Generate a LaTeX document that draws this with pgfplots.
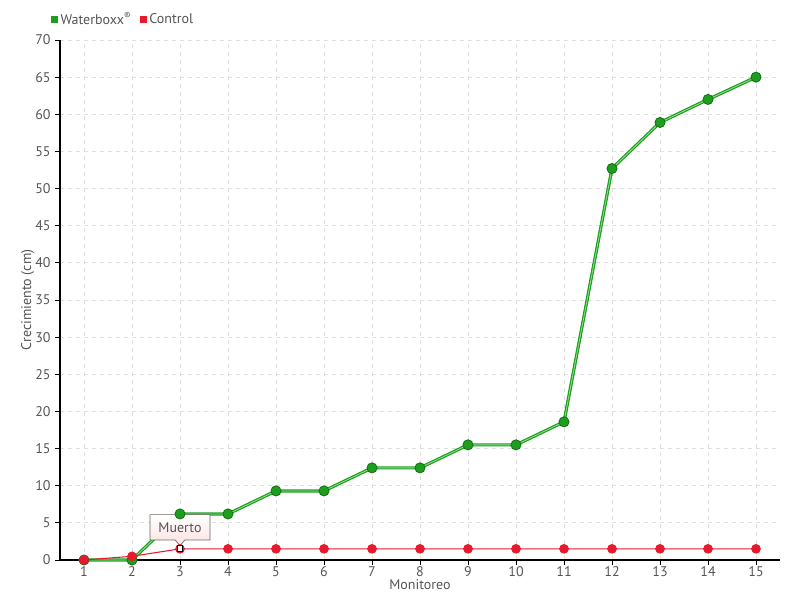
\documentclass[border=0pt]{standalone}
\usepackage{pgfplots}
\pgfplotsset{compat=1.18}
\usepackage{fontspec}
\setmainfont{PT Sans}
\usetikzlibrary{shapes.callouts}
\definecolor{wgreen}{HTML}{1E9E1E}
\definecolor{wdark}{HTML}{127012}
\definecolor{wlight}{HTML}{8FE08F}
\definecolor{cred}{HTML}{E8192C}
\definecolor{txt}{HTML}{555555}
\begin{document}
\begin{tikzpicture}
\useasboundingbox (-45pt,-30pt) rectangle (555pt,420pt);
\begin{axis}[
  at={(0,0)}, anchor=south west,
  scale only axis, width=540pt, height=390pt,
  xmin=0.5, xmax=15.5, ymin=0, ymax=70,
  xtick={1,...,15}, ytick={0,5,...,70},
  axis lines=left, axis line style={-, black, line width=0.8pt},
  tick style={black, line width=0.6pt},
  tick align=outside, major tick length=3.5pt,
  grid=major, grid style={dashed, gray!25, line width=0.6pt},
  ticklabel style={font=\fontsize{10.5}{12}\selectfont, text=txt},
  xticklabel style={yshift=2pt},
  /pgf/number format/assume math mode=true,
  xlabel={Monitoreo}, ylabel={Crecimiento (cm)},
  label style={font=\fontsize{10.5}{12}\selectfont, text=txt},
  xlabel style={yshift=5pt},
  ylabel style={yshift=-6pt},
  legend columns=2,
  legend style={at={(rel axis cs:-0.018,1.015)}, anchor=south west, draw=none, fill=none,
    font=\fontsize{10.5}{12}\selectfont, text=txt,
    /tikz/every even column/.append style={column sep=4pt}},
  clip=false,
]
% Waterboxx
\addplot[wgreen, line width=2.4pt, forget plot] coordinates {
(1,0) (2,0) (3,6.2) (4,6.2) (5,9.3) (6,9.3) (7,12.4) (8,12.4) (9,15.5) (10,15.5) (11,18.6) (12,52.7) (13,58.9) (14,62) (15,65)};
\addplot[wlight, line width=0.6pt, forget plot] coordinates {
(1,0) (2,0) (3,6.2) (4,6.2) (5,9.3) (6,9.3) (7,12.4) (8,12.4) (9,15.5) (10,15.5) (11,18.6) (12,52.7) (13,58.9) (14,62) (15,65)};
\addplot[only marks, mark=*, mark size=3.8pt, mark options={fill=wgreen, draw=wdark, line width=0.6pt},
  legend image code/.code={\fill[wgreen] (0pt,-2.3pt) rectangle (4.6pt,2.3pt);}] coordinates {
(1,0) (2,0) (3,6.2) (4,6.2) (5,9.3) (6,9.3) (7,12.4) (8,12.4) (9,15.5) (10,15.5) (11,18.6) (12,52.7) (13,58.9) (14,62) (15,65)};
\addlegendentry{Waterboxx\textsuperscript{®}}
% Control
\addplot[cred, line width=0.8pt, mark=*, mark size=3.2pt, mark options={fill=cred, draw=cred},
  legend image code/.code={\fill[cred] (0pt,-2.3pt) rectangle (4.6pt,2.3pt);}] coordinates {
(1,0) (2,0.5) (3,1.5) (4,1.5) (5,1.5) (6,1.5) (7,1.5) (8,1.5) (9,1.5) (10,1.5) (11,1.5) (12,1.5) (13,1.5) (14,1.5) (15,1.5)};
\addlegendentry{Control}
\addplot[only marks, mark=square*, mark size=2.2pt, mark options={fill=white, draw=black, line width=0.7pt}, forget plot] coordinates {(3,1.5)};
\node[rectangle callout, draw=gray!80!black, line width=0.5pt,
  top color=white, bottom color=red!12, minimum width=45pt, minimum height=19pt,
  font=\fontsize{10.5}{12}\selectfont, text=txt,
  callout absolute pointer={(axis cs:3,1.9)}]
  at (axis cs:3,4.4) {Muerto};
\end{axis}
\end{tikzpicture}
\end{document}
